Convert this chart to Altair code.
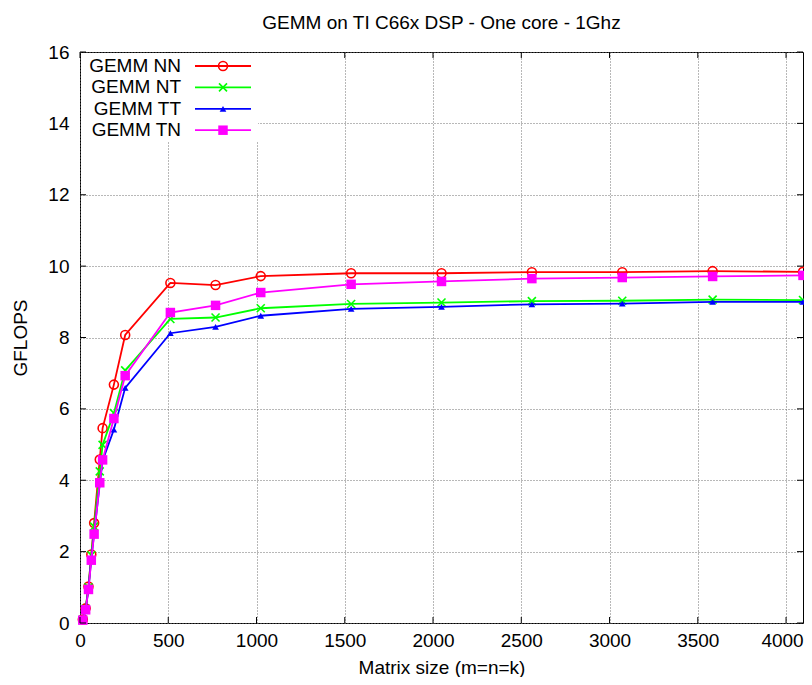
import altair as alt
import pandas as pd

# ---- data ----
sizes = [16, 32, 48, 64, 80, 112, 128, 192, 256, 512, 768, 1024, 1536, 2048, 2560, 3072, 3584, 4096]
gemm_nn = [0.10, 0.41, 1.02, 1.92, 2.80, 4.58, 5.46, 6.68, 8.07, 9.53, 9.47, 9.72, 9.80, 9.80, 9.83, 9.83, 9.86, 9.84]
gemm_nt = [0.09, 0.40, 1.00, 1.90, 2.70, 4.25, 4.99, 5.88, 7.08, 8.52, 8.56, 8.82, 8.94, 8.98, 9.02, 9.03, 9.06, 9.05]
gemm_tt = [0.08, 0.36, 0.96, 1.80, 2.50, 3.90, 4.55, 5.42, 6.59, 8.12, 8.30, 8.61, 8.80, 8.86, 8.93, 8.95, 9.00, 9.00]
gemm_tn = [0.08, 0.37, 0.94, 1.76, 2.49, 3.93, 4.57, 5.73, 6.93, 8.70, 8.90, 9.26, 9.49, 9.57, 9.65, 9.68, 9.71, 9.74]

series_names = ["GEMM NN", "GEMM NT", "GEMM TT", "GEMM TN"]
series_values = [gemm_nn, gemm_nt, gemm_tt, gemm_tn]

x_ticks = [0, 500, 1000, 1500, 2000, 2500, 3000, 3500, 4000]
y_ticks = [0, 2, 4, 6, 8, 10, 12, 14, 16]

# ---- styles ----
colors = ["#ff0000", "#00ff00", "#0000ff", "#ff00ff"]
shapes = ["circle", "M-1,-1L1,1M-1,1L1,-1", "triangle-up", "square"]
filled = [False, False, True, True]
marker_sizes = [80, 64, 45, 90]
FONT = "Liberation Sans"
FS = 19
W, H = 723, 571

rows = []
for name, vals in zip(series_names, series_values):
    for s, v in zip(sizes, vals):
        rows.append({"series": name, "size": s, "gflops": v})
df = pd.DataFrame(rows)

xscale = alt.Scale(domain=[0, 4096], nice=False, zero=False)
yscale = alt.Scale(domain=[0, 16], nice=False, zero=False)

common_axis = dict(
    grid=True, gridDash=[1, 2], gridColor="#707070", gridWidth=1, gridOpacity=1,
    domain=False, ticks=False, tickSize=0,
    labelFont=FONT, labelFontSize=FS, labelColor="black",
    titleFont=FONT, titleFontSize=FS, titleFontWeight="normal", titleColor="black",
    labelFlush=False, labelOverlap=False,
)
xaxis = alt.Axis(title="Matrix size (m=n=k)", values=x_ticks, format="d",
                 labelPadding=8, titlePadding=8,
                 labelOffset={"condition": {"test": "datum.value == 4000", "value": -4}, "value": 0},
                 **common_axis)
yaxis = alt.Axis(title="GFLOPS", values=y_ticks, format="d",
                 labelPadding=11, titlePadding=17, **common_axis)

X = lambda f: alt.X(f, scale=xscale, axis=xaxis)
Y = lambda f: alt.Y(f, scale=yscale, axis=yaxis)

layers = []

# data series
for i, name in enumerate(series_names):
    b = alt.Chart(df).transform_filter(alt.datum.series == name)
    layers.append(
        b.mark_line(color=colors[i], strokeWidth=1.8).encode(x=X("size:Q"), y=Y("gflops:Q"))
    )
    layers.append(
        b.mark_point(shape=shapes[i], filled=filled[i], color=colors[i],
                     size=marker_sizes[i], strokeWidth=1.6, opacity=1).encode(
            x=X("size:Q"), y=Y("gflops:Q"))
    )

# inward ticks on all four sides (gnuplot style)
ydf = pd.DataFrame({"size": [0] * len(y_ticks), "gflops": y_ticks})
xdf = pd.DataFrame({"size": x_ticks, "gflops": [0] * len(x_ticks)})
layers.append(alt.Chart(ydf).mark_rule(color="black", strokeWidth=1).encode(
    y=Y("gflops:Q"), x=alt.value(0), x2=alt.value(6)))
layers.append(alt.Chart(ydf).mark_rule(color="black", strokeWidth=1).encode(
    y=Y("gflops:Q"), x=alt.value(W - 6), x2=alt.value(W)))
layers.append(alt.Chart(xdf).mark_rule(color="black", strokeWidth=1).encode(
    x=X("size:Q"), y=alt.value(H - 6), y2=alt.value(H)))
layers.append(alt.Chart(xdf).mark_rule(color="black", strokeWidth=1).encode(
    x=X("size:Q"), y=alt.value(0), y2=alt.value(6)))

# key (legend) built like gnuplot: white box, label, line sample with marker
one = pd.DataFrame({"a": [0]})
layers.append(
    alt.Chart(one).mark_rect(color="white").encode(
        x=alt.value(1), x2=alt.value(178), y=alt.value(1), y2=alt.value(90))
)
for i, name in enumerate(series_names):
    py = 14 + 21.4 * i
    ldf = pd.DataFrame({"series": [name]})
    lb = alt.Chart(ldf)
    layers.append(lb.mark_text(align="right", baseline="middle", font=FONT,
                               fontSize=FS, color="black").encode(
        x=alt.value(101), y=alt.value(py), text="series:N"))
    layers.append(lb.mark_rule(strokeWidth=1.8, color=colors[i]).encode(
        x=alt.value(115), x2=alt.value(171), y=alt.value(py)))
    layers.append(lb.mark_point(shape=shapes[i], filled=filled[i], color=colors[i],
                                size=marker_sizes[i], strokeWidth=1.6, opacity=1).encode(
        x=alt.value(143), y=alt.value(py)))

chart = alt.layer(*layers).properties(
    width=W, height=H,
    title=alt.TitleParams("GEMM on TI C66x DSP - One core - 1Ghz", font=FONT, fontSize=FS,
                          fontWeight="normal", color="black", anchor="middle", offset=10),
    autosize=alt.AutoSizeParams(type="none"),
    padding={"left": 72, "top": 44, "right": 1, "bottom": 54},
    background="white",
).configure_view(stroke="black", strokeWidth=1)

chart.save("out.html", embed_options={"renderer": "svg", "actions": False})
